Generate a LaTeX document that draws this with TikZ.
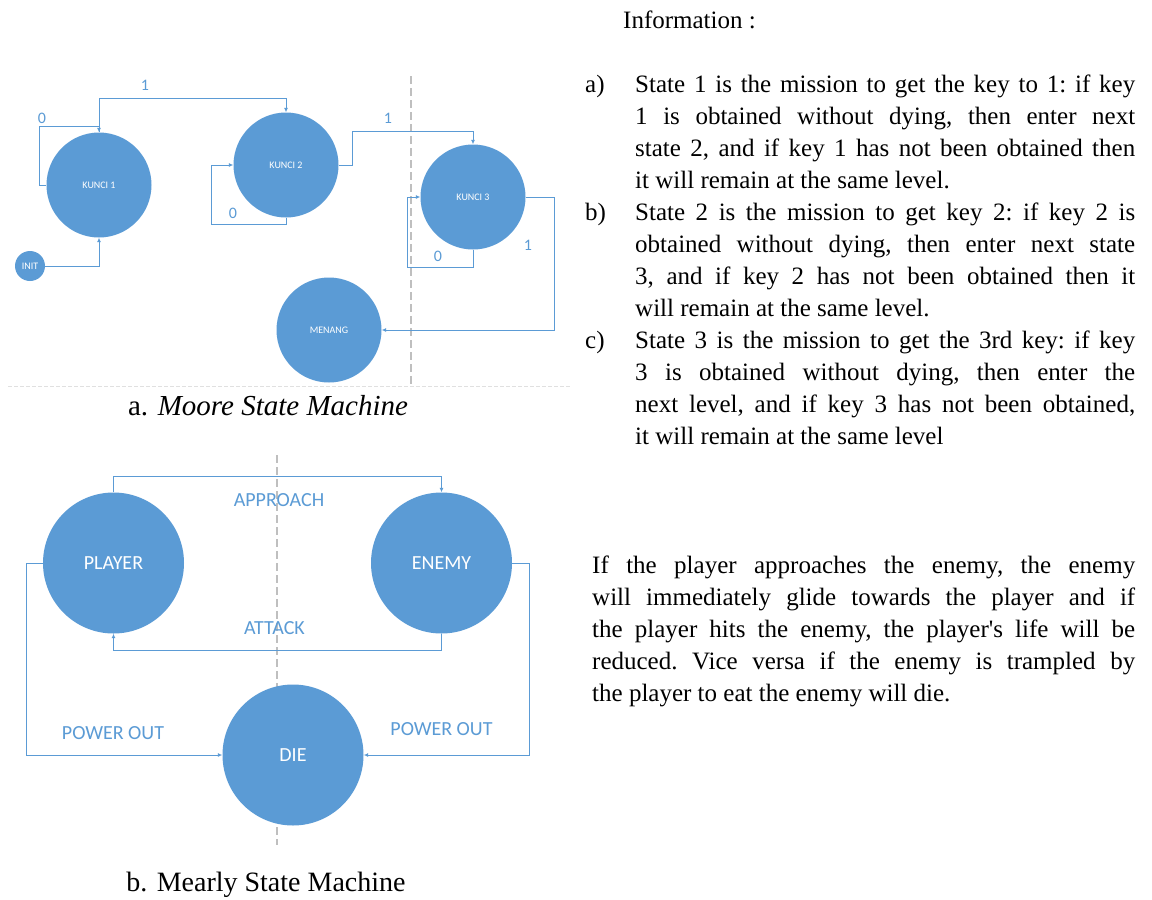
\documentclass[tikz,border=0pt]{standalone}
\usepackage{fontspec}
\setmainfont{Liberation Serif}
\newfontfamily\calibri{Carlito}
\usetikzlibrary{arrows.meta}
\definecolor{stateblue}{HTML}{5B9BD5}
\definecolor{guidegray}{HTML}{BFBFBF}
\newcommand{\jline}[2][500pt]{\makebox[#1][s]{#2}}
\begin{document}
\begin{tikzpicture}[x=1pt,y=-1pt,
	stnode/.style={circle,fill=stateblue,text=white,inner sep=0pt,minimum size=105pt,font=\calibri\fontsize{10}{12}\selectfont},
	bignode/.style={stnode,minimum size=141pt,font=\calibri\fontsize{20}{24}\selectfont},
	link/.style={stateblue,line width=1pt,-{Latex[length=4.5pt,width=4pt]}},
	lbl/.style={text=stateblue,inner sep=0pt,font=\calibri\fontsize{16}{18}\selectfont},
	biglbl/.style={lbl,font=\calibri\fontsize{20}{24}\selectfont},
	guide/.style={guidegray,line width=1.3pt,dash pattern=on 8pt off 4pt},
	body/.style={inner sep=0pt,font=\fontsize{25}{32}\selectfont\frenchspacing}]
	\useasboundingbox[fill=white] (0,0) rectangle (1152,900);
	% guide lines
	\draw[guide] (411,76) -- (411,387);
	\draw[guide] (277,455) -- (277,845);
	\draw[black!12,line width=0.8pt,dash pattern=on 4pt off 2pt] (8,386) -- (571,386);
	% a. moore
	\node[stnode] (kunci1) at (99,185) {KUNCI 1};
	\node[stnode] (kunci2) at (286,165) {KUNCI 2};
	\node[stnode] (kunci3) at (473,197) {KUNCI 3};
	\node[stnode] (menang) at (329,330) {MENANG};
	\node[stnode,minimum size=30pt] (init) at (30,266) {INIT};
	\draw[link] (init.east) -| (kunci1.south);
	\draw[link] (kunci1.west) -| ++(-7,-59) -| (kunci1.north);
	\draw[link] (kunci1.north) -- ++(0,-34) -| (kunci2.north);
	\draw[link] (kunci2.south) |- ++(-75,7) |- (kunci2.west);
	\draw[link] (kunci2.east) -| ++(14,-34) -| (kunci3.north);
	\draw[link] (kunci3.south) |- ++(-66,18) |- (kunci3.west);
	\draw[link] (kunci3.east) -| ++(29,133) -- (menang.east);
	\node[lbl] (zero1) at (42,118) {0};
	\node[lbl] (one1) at (145,85) {1};
	\node[lbl] (zero2) at (233,213) {0};
	\node[lbl] (one2) at (388,118) {1};
	\node[lbl] (zero3) at (438,256) {0};
	\node[lbl] (one3) at (528,245) {1};
	\node[body,font=\fontsize{29}{32}\selectfont] (capa) at (268,406) {a. \textit{Moore State Machine}};
	% b. mearly
	\node[bignode] (player) at (113.5,563) {PLAYER};
	\node[bignode] (enemy) at (441.5,563) {ENEMY};
	\node[bignode] (die) at (293,755) {DIE};
	\draw[link] (player.north) -- ++(0,-16) -| (enemy.north);
	\draw[link] (enemy.south) -- ++(0,17) -| (player.south);
	\draw[link] (player.west) -| ++(-16.5,192) -- (die.west);
	\draw[link] (enemy.east) -| ++(17,192) -- (die.east);
	\node[biglbl] (approach) at (279,500) {APPROACH};
	\node[biglbl] (attack) at (274.5,628.5) {ATTACK};
	\node[biglbl] (powerl) at (113,733) {POWER OUT};
	\node[biglbl] (powerr) at (441.5,729) {POWER OUT};
	\node[body,font=\fontsize{28}{32}\selectfont] (capb) at (266,885) {b. Mearly State Machine};
	% information
	\node[body,anchor=base west] (info) at (623,28) {Information :};
	\node[body,anchor=base west] (ia) at (585,92) {a)};
	\node[body,anchor=base west] (ib) at (585,220) {b)};
	\node[body,anchor=base west] (ic) at (585,348) {c)};
	\node[body,anchor=base west] (ta) at (635,92) {\parbox[t]{500pt}{%
		\jline{State 1 is the mission to get the key to 1: if key}\\
		\jline{1 is obtained without dying, then enter next}\\
		\jline{state 2, and if key 1 has not been obtained then}\\
		it will remain at the same level.}};
	\node[body,anchor=base west] (tb) at (635,220) {\parbox[t]{500pt}{%
		\jline{State 2 is the mission to get key 2: if key 2 is}\\
		\jline{obtained without dying, then enter next state}\\
		\jline{3, and if key 2 has not been obtained then it}\\
		will remain at the same level.}};
	\node[body,anchor=base west] (tc) at (635,348) {\parbox[t]{500pt}{%
		\jline{State 3 is the mission to get the 3rd key: if key}\\
		\jline{3 is obtained without dying, then enter the}\\
		\jline{next level, and if key 3 has not been obtained,}\\
		it will remain at the same level}};
	\node[body,anchor=base west] (story) at (592,573) {\parbox[t]{543pt}{%
		\jline[543pt]{If the player approaches the enemy, the enemy}\\
		\jline[543pt]{will immediately glide towards the player and if}\\
		\jline[543pt]{the player hits the enemy, the player\textquotesingle s life will be}\\
		\jline[543pt]{reduced. Vice versa if the enemy is trampled by}\\
		the player to eat the enemy will die.}};
\end{tikzpicture}
\end{document}
